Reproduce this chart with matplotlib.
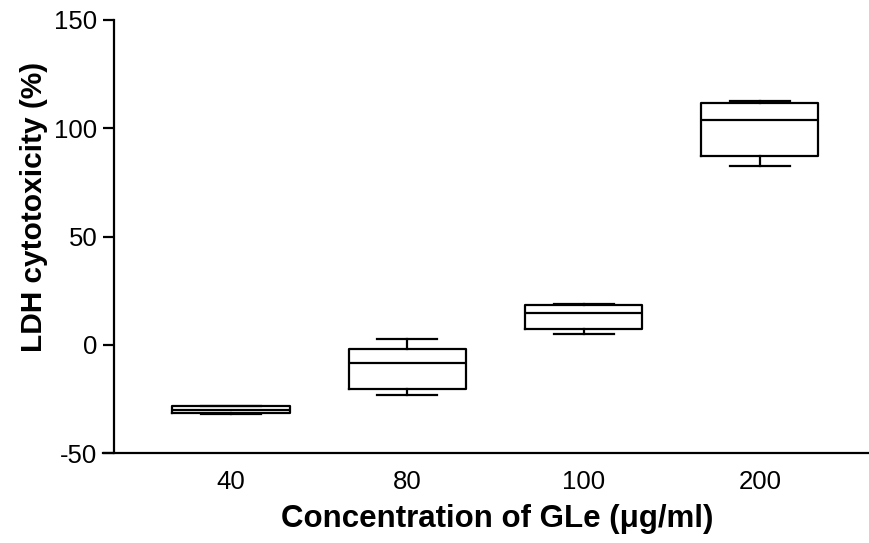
import matplotlib
matplotlib.use("Agg")
import matplotlib.pyplot as plt

plt.rcParams['font.family'] = ['Liberation Sans', 'DejaVu Sans']
plt.rcParams['axes.unicode_minus'] = False

concentrations = ["40", "80", "100", "200"]
whisker_low = [-31.9, -23.1, 5.2, 82.4]
q1 = [-31.3, -20.5, 7.4, 87.2]
medians = [-30.0, -8.2, 14.8, 103.6]
q3 = [-28.5, -2.0, 18.3, 111.6]
whisker_high = [-28.3, 2.6, 18.8, 112.7]

stats = []
for i in range(len(concentrations)):
    stats.append({
        "label": concentrations[i],
        "whislo": whisker_low[i],
        "q1": q1[i],
        "med": medians[i],
        "q3": q3[i],
        "whishi": whisker_high[i],
        "fliers": [],
    })

fig = plt.figure(figsize=(8.69, 5.43), dpi=100)
ax = fig.add_axes([0.1312, 0.1657, 0.8676, 0.7975])

lw = 1.6
ax.bxp(stats, positions=[1, 2, 3, 4], widths=0.664, capwidths=0.34,
       showfliers=False,
       boxprops=dict(color="black", linewidth=lw),
       whiskerprops=dict(color="black", linewidth=lw),
       capprops=dict(color="black", linewidth=lw),
       medianprops=dict(color="black", linewidth=lw))

ax.set_xlim(0.3365, 4.6125)
ax.set_ylim(-50, 150)
ax.set_yticks([-50, 0, 50, 100, 150])
ax.spines['top'].set_visible(False)
ax.spines['right'].set_visible(False)
ax.spines['left'].set_linewidth(lw)
ax.spines['bottom'].set_linewidth(lw)
# x axis line pokes a little past the y axis, like the original
ax.spines['bottom'].set_bounds(0.274, 4.6125)
ax.tick_params(axis='y', length=8, width=lw, labelsize=18.5, pad=4)
ax.tick_params(axis='x', length=0, labelsize=18.5, pad=12)

ax.set_xlabel("Concentration of GLe (μg/ml)", fontsize=22.5, fontweight='bold')
ax.set_ylabel("LDH cytotoxicity (%)", fontsize=21.5, fontweight='bold')
ax.xaxis.set_label_coords(0.508, -0.117)
ax.yaxis.set_label_coords(-0.087, 0.568)

fig.savefig("out.png", dpi=100)
